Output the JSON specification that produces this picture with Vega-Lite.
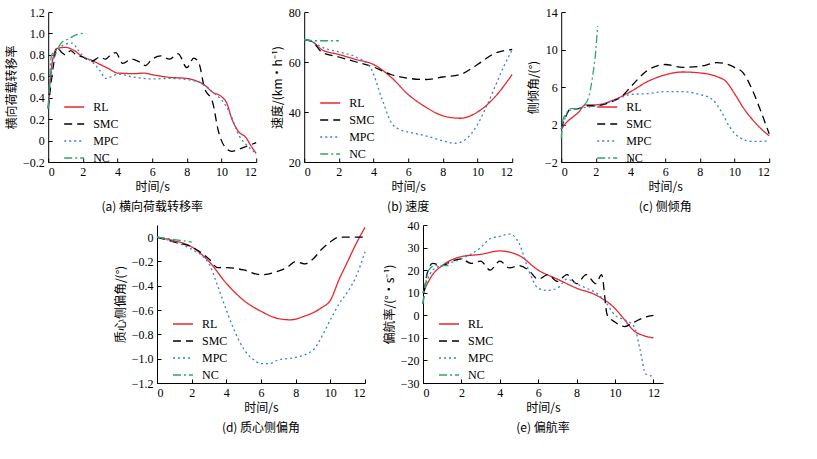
{
"$schema": "https://vega.github.io/schema/vega-lite/v6.json",
"background": "white",
"padding": {"left": 5, "top": 6, "right": 5, "bottom": 2},
"config": {
  "font": "Liberation Serif, Noto Sans CJK SC",
  "view": {"stroke": null},
  "axis": {"grid": false, "domainColor": "#000", "tickColor": "#000", "tickSize": -4, "labelFontSize": 12, "titleFontSize": 12, "titleFontWeight": "normal", "labelColor": "#000", "titleColor": "#000", "labelFont": "Liberation Serif", "titleFont": "Noto Sans CJK SC", "labelPadding": 8},
  "legend": {"orient": "none", "title": null, "symbolType": "stroke", "symbolSize": 400, "symbolStrokeWidth": 1.5, "labelFontSize": 12, "labelFont": "Liberation Serif", "rowPadding": 0, "labelOffset": 8},
  "title": {"orient": "bottom", "fontSize": 12, "fontWeight": "normal", "font": "Noto Sans CJK SC", "offset": 10},
  "line": {"strokeWidth": 1.3}
},
"datasets": {
"a": [
{"s":"RL","t":0,"v":0.3},{"s":"RL","t":0.2,"v":0.7},{"s":"RL","t":0.5,"v":0.86},{"s":"RL","t":1,"v":0.87},{"s":"RL","t":1.5,"v":0.84},{"s":"RL","t":2,"v":0.78},{"s":"RL","t":2.5,"v":0.75},{"s":"RL","t":3,"v":0.71},{"s":"RL","t":3.5,"v":0.67},{"s":"RL","t":4,"v":0.63},{"s":"RL","t":5,"v":0.625},{"s":"RL","t":5.5,"v":0.63},{"s":"RL","t":6,"v":0.615},{"s":"RL","t":7,"v":0.59},{"s":"RL","t":8,"v":0.58},{"s":"RL","t":8.5,"v":0.56},{"s":"RL","t":9,"v":0.52},{"s":"RL","t":9.5,"v":0.45},{"s":"RL","t":10,"v":0.41},{"s":"RL","t":10.3,"v":0.35},{"s":"RL","t":10.6,"v":0.2},{"s":"RL","t":11,"v":0.08},{"s":"RL","t":11.4,"v":0.03},{"s":"RL","t":11.7,"v":-0.05},{"s":"RL","t":12,"v":-0.12},
{"s":"SMC","t":0,"v":0.3},{"s":"SMC","t":0.3,"v":0.7},{"s":"SMC","t":0.5,"v":0.87},{"s":"SMC","t":0.8,"v":0.82},{"s":"SMC","t":1,"v":0.8},{"s":"SMC","t":1.3,"v":0.84},{"s":"SMC","t":1.6,"v":0.8},{"s":"SMC","t":2,"v":0.78},{"s":"SMC","t":2.5,"v":0.74},{"s":"SMC","t":3,"v":0.78},{"s":"SMC","t":3.3,"v":0.76},{"s":"SMC","t":3.6,"v":0.8},{"s":"SMC","t":3.9,"v":0.82},{"s":"SMC","t":4.3,"v":0.72},{"s":"SMC","t":4.8,"v":0.76},{"s":"SMC","t":5.2,"v":0.74},{"s":"SMC","t":5.6,"v":0.7},{"s":"SMC","t":6,"v":0.76},{"s":"SMC","t":6.5,"v":0.79},{"s":"SMC","t":7,"v":0.76},{"s":"SMC","t":7.5,"v":0.81},{"s":"SMC","t":8,"v":0.68},{"s":"SMC","t":8.4,"v":0.77},{"s":"SMC","t":8.7,"v":0.72},{"s":"SMC","t":9,"v":0.5},{"s":"SMC","t":9.5,"v":0.35},{"s":"SMC","t":9.8,"v":0.1},{"s":"SMC","t":10.2,"v":-0.06},{"s":"SMC","t":10.6,"v":-0.1},{"s":"SMC","t":11,"v":-0.08},{"s":"SMC","t":11.5,"v":-0.05},{"s":"SMC","t":12,"v":-0.02},
{"s":"MPC","t":0,"v":0.3},{"s":"MPC","t":0.3,"v":0.75},{"s":"MPC","t":0.6,"v":0.85},{"s":"MPC","t":1,"v":0.9},{"s":"MPC","t":1.4,"v":0.91},{"s":"MPC","t":1.7,"v":0.85},{"s":"MPC","t":2,"v":0.79},{"s":"MPC","t":2.5,"v":0.74},{"s":"MPC","t":3,"v":0.65},{"s":"MPC","t":3.3,"v":0.58},{"s":"MPC","t":3.7,"v":0.6},{"s":"MPC","t":4,"v":0.62},{"s":"MPC","t":5,"v":0.59},{"s":"MPC","t":6,"v":0.575},{"s":"MPC","t":7,"v":0.58},{"s":"MPC","t":8,"v":0.57},{"s":"MPC","t":9,"v":0.52},{"s":"MPC","t":9.5,"v":0.45},{"s":"MPC","t":10,"v":0.38},{"s":"MPC","t":10.5,"v":0.25},{"s":"MPC","t":11,"v":0.05},{"s":"MPC","t":11.5,"v":-0.05},{"s":"MPC","t":12,"v":-0.12},
{"s":"NC","t":0,"v":0.3},{"s":"NC","t":0.2,"v":0.8},{"s":"NC","t":0.5,"v":0.85},{"s":"NC","t":0.8,"v":0.92},{"s":"NC","t":1.2,"v":0.95},{"s":"NC","t":1.5,"v":0.98},{"s":"NC","t":2,"v":1.0}
],
"b": [
{"s":"RL","t":0,"v":69},{"s":"RL","t":0.5,"v":68},{"s":"RL","t":1,"v":65},{"s":"RL","t":2,"v":63},{"s":"RL","t":3,"v":61},{"s":"RL","t":4,"v":59},{"s":"RL","t":5,"v":54},{"s":"RL","t":6,"v":47},{"s":"RL","t":7,"v":42},{"s":"RL","t":8,"v":38.5},{"s":"RL","t":9,"v":37.5},{"s":"RL","t":10,"v":40},{"s":"RL","t":11,"v":46},{"s":"RL","t":12,"v":55},
{"s":"SMC","t":0,"v":69},{"s":"SMC","t":0.5,"v":68},{"s":"SMC","t":1,"v":64},{"s":"SMC","t":2,"v":62},{"s":"SMC","t":3,"v":60},{"s":"SMC","t":4,"v":58},{"s":"SMC","t":5,"v":55},{"s":"SMC","t":6,"v":53.5},{"s":"SMC","t":7,"v":53},{"s":"SMC","t":8,"v":54},{"s":"SMC","t":9,"v":55},{"s":"SMC","t":10,"v":59},{"s":"SMC","t":11,"v":63.5},{"s":"SMC","t":12,"v":65},
{"s":"MPC","t":0,"v":69},{"s":"MPC","t":0.5,"v":68},{"s":"MPC","t":1,"v":66},{"s":"MPC","t":2,"v":64},{"s":"MPC","t":3,"v":62},{"s":"MPC","t":3.8,"v":58},{"s":"MPC","t":4.5,"v":45},{"s":"MPC","t":5,"v":36},{"s":"MPC","t":5.5,"v":33},{"s":"MPC","t":6,"v":32},{"s":"MPC","t":7,"v":30.5},{"s":"MPC","t":8,"v":28.5},{"s":"MPC","t":8.7,"v":27.5},{"s":"MPC","t":9.3,"v":29},{"s":"MPC","t":10,"v":35},{"s":"MPC","t":10.5,"v":42},{"s":"MPC","t":11,"v":50},{"s":"MPC","t":11.5,"v":58},{"s":"MPC","t":12,"v":65},
{"s":"NC","t":0,"v":69},{"s":"NC","t":0.5,"v":68.5},{"s":"NC","t":1,"v":68.5},{"s":"NC","t":2,"v":68.5}
],
"c": [
{"s":"RL","t":0,"v":1.5},{"s":"RL","t":0.3,"v":2.2},{"s":"RL","t":1,"v":3.3},{"s":"RL","t":1.4,"v":4.1},{"s":"RL","t":2,"v":4.1},{"s":"RL","t":3,"v":4.6},{"s":"RL","t":4,"v":5.5},{"s":"RL","t":5,"v":6.6},{"s":"RL","t":6,"v":7.3},{"s":"RL","t":7,"v":7.6},{"s":"RL","t":8,"v":7.5},{"s":"RL","t":9,"v":7.1},{"s":"RL","t":9.5,"v":6.6},{"s":"RL","t":10,"v":5.3},{"s":"RL","t":10.5,"v":3.8},{"s":"RL","t":11,"v":2.6},{"s":"RL","t":11.5,"v":1.6},{"s":"RL","t":12,"v":0.8},
{"s":"SMC","t":0,"v":1.5},{"s":"SMC","t":0.3,"v":3.0},{"s":"SMC","t":0.5,"v":3.6},{"s":"SMC","t":1,"v":3.7},{"s":"SMC","t":1.5,"v":4.0},{"s":"SMC","t":2,"v":4.0},{"s":"SMC","t":3,"v":4.5},{"s":"SMC","t":3.5,"v":5.0},{"s":"SMC","t":4,"v":6.0},{"s":"SMC","t":5,"v":7.8},{"s":"SMC","t":6,"v":8.4},{"s":"SMC","t":7,"v":8.1},{"s":"SMC","t":8,"v":8.2},{"s":"SMC","t":9,"v":8.6},{"s":"SMC","t":10,"v":8.1},{"s":"SMC","t":10.5,"v":7.5},{"s":"SMC","t":11,"v":5.8},{"s":"SMC","t":11.5,"v":3.5},{"s":"SMC","t":12,"v":1.0},
{"s":"MPC","t":0,"v":1.5},{"s":"MPC","t":0.3,"v":3.0},{"s":"MPC","t":0.5,"v":3.5},{"s":"MPC","t":1,"v":3.7},{"s":"MPC","t":2,"v":4.0},{"s":"MPC","t":3,"v":4.5},{"s":"MPC","t":4,"v":5.2},{"s":"MPC","t":5,"v":5.3},{"s":"MPC","t":6,"v":5.5},{"s":"MPC","t":7,"v":5.5},{"s":"MPC","t":8,"v":5.2},{"s":"MPC","t":8.7,"v":4.7},{"s":"MPC","t":9.2,"v":3.5},{"s":"MPC","t":9.7,"v":1.8},{"s":"MPC","t":10.3,"v":0.6},{"s":"MPC","t":11,"v":0.2},{"s":"MPC","t":11.6,"v":0.2},{"s":"MPC","t":12,"v":0.3},
{"s":"NC","t":0,"v":0.5},{"s":"NC","t":0.1,"v":2.5},{"s":"NC","t":0.3,"v":3.2},{"s":"NC","t":0.5,"v":3.7},{"s":"NC","t":1,"v":3.7},{"s":"NC","t":1.3,"v":4.0},{"s":"NC","t":1.6,"v":5.0},{"s":"NC","t":1.8,"v":7.0},{"s":"NC","t":2.0,"v":10.0},{"s":"NC","t":2.1,"v":12.5}
],
"d": [
{"s":"RL","t":0,"v":0},{"s":"RL","t":1,"v":-0.03},{"s":"RL","t":2,"v":-0.08},{"s":"RL","t":3,"v":-0.2},{"s":"RL","t":4,"v":-0.38},{"s":"RL","t":5,"v":-0.52},{"s":"RL","t":6,"v":-0.61},{"s":"RL","t":7,"v":-0.67},{"s":"RL","t":7.7,"v":-0.68},{"s":"RL","t":8.5,"v":-0.65},{"s":"RL","t":9.5,"v":-0.58},{"s":"RL","t":10,"v":-0.52},{"s":"RL","t":10.5,"v":-0.35},{"s":"RL","t":11,"v":-0.2},{"s":"RL","t":11.5,"v":-0.05},{"s":"RL","t":12,"v":0.08},
{"s":"SMC","t":0,"v":0},{"s":"SMC","t":1,"v":-0.04},{"s":"SMC","t":2,"v":-0.08},{"s":"SMC","t":3,"v":-0.18},{"s":"SMC","t":3.5,"v":-0.25},{"s":"SMC","t":4,"v":-0.25},{"s":"SMC","t":5,"v":-0.27},{"s":"SMC","t":6,"v":-0.31},{"s":"SMC","t":7,"v":-0.28},{"s":"SMC","t":7.5,"v":-0.25},{"s":"SMC","t":8,"v":-0.2},{"s":"SMC","t":8.5,"v":-0.22},{"s":"SMC","t":9,"v":-0.18},{"s":"SMC","t":9.5,"v":-0.1},{"s":"SMC","t":10,"v":-0.04},{"s":"SMC","t":10.5,"v":0},{"s":"SMC","t":11,"v":0},{"s":"SMC","t":12,"v":0},
{"s":"MPC","t":0,"v":0},{"s":"MPC","t":1,"v":-0.04},{"s":"MPC","t":2,"v":-0.1},{"s":"MPC","t":3,"v":-0.22},{"s":"MPC","t":3.5,"v":-0.4},{"s":"MPC","t":4,"v":-0.6},{"s":"MPC","t":4.5,"v":-0.78},{"s":"MPC","t":5,"v":-0.92},{"s":"MPC","t":5.5,"v":-1.0},{"s":"MPC","t":6,"v":-1.04},{"s":"MPC","t":6.5,"v":-1.04},{"s":"MPC","t":7,"v":-1.01},{"s":"MPC","t":8,"v":-0.99},{"s":"MPC","t":9,"v":-0.93},{"s":"MPC","t":9.5,"v":-0.82},{"s":"MPC","t":10,"v":-0.68},{"s":"MPC","t":10.5,"v":-0.55},{"s":"MPC","t":11,"v":-0.45},{"s":"MPC","t":11.5,"v":-0.32},{"s":"MPC","t":12,"v":-0.12},
{"s":"NC","t":0,"v":0},{"s":"NC","t":1,"v":-0.02},{"s":"NC","t":2,"v":-0.04}
],
"e": [
{"s":"RL","t":0,"v":10},{"s":"RL","t":0.5,"v":18},{"s":"RL","t":1,"v":22},{"s":"RL","t":2,"v":26},{"s":"RL","t":3,"v":27},{"s":"RL","t":4,"v":28.5},{"s":"RL","t":5,"v":26.5},{"s":"RL","t":6,"v":20},{"s":"RL","t":7,"v":16},{"s":"RL","t":8,"v":12},{"s":"RL","t":9,"v":9},{"s":"RL","t":10,"v":3},{"s":"RL","t":10.5,"v":-2},{"s":"RL","t":11,"v":-7},{"s":"RL","t":11.5,"v":-9},{"s":"RL","t":12,"v":-10},
{"s":"SMC","t":0,"v":5},{"s":"SMC","t":0.2,"v":18},{"s":"SMC","t":0.5,"v":23},{"s":"SMC","t":1,"v":22},{"s":"SMC","t":1.5,"v":24},{"s":"SMC","t":2,"v":25},{"s":"SMC","t":2.5,"v":23},{"s":"SMC","t":3,"v":24},{"s":"SMC","t":3.5,"v":20},{"s":"SMC","t":4,"v":24},{"s":"SMC","t":4.5,"v":21},{"s":"SMC","t":5,"v":22},{"s":"SMC","t":5.5,"v":20},{"s":"SMC","t":6,"v":16},{"s":"SMC","t":6.5,"v":18},{"s":"SMC","t":7,"v":15},{"s":"SMC","t":7.5,"v":18},{"s":"SMC","t":8,"v":14},{"s":"SMC","t":8.5,"v":18},{"s":"SMC","t":9,"v":14},{"s":"SMC","t":9.3,"v":18},{"s":"SMC","t":9.6,"v":0},{"s":"SMC","t":10,"v":-3},{"s":"SMC","t":10.5,"v":-5},{"s":"SMC","t":11,"v":-3},{"s":"SMC","t":11.5,"v":-1},{"s":"SMC","t":12,"v":0},
{"s":"MPC","t":0,"v":10},{"s":"MPC","t":0.5,"v":20},{"s":"MPC","t":1,"v":22},{"s":"MPC","t":2,"v":25},{"s":"MPC","t":3,"v":30},{"s":"MPC","t":3.5,"v":34},{"s":"MPC","t":4,"v":35},{"s":"MPC","t":4.5,"v":36},{"s":"MPC","t":5,"v":32},{"s":"MPC","t":5.5,"v":20},{"s":"MPC","t":6,"v":12},{"s":"MPC","t":6.5,"v":11},{"s":"MPC","t":7,"v":12},{"s":"MPC","t":7.5,"v":16},{"s":"MPC","t":8,"v":14},{"s":"MPC","t":8.5,"v":12},{"s":"MPC","t":9,"v":10},{"s":"MPC","t":9.5,"v":6},{"s":"MPC","t":10,"v":0},{"s":"MPC","t":10.5,"v":-2},{"s":"MPC","t":11,"v":-5},{"s":"MPC","t":11.3,"v":-15},{"s":"MPC","t":11.6,"v":-26},{"s":"MPC","t":12,"v":-27},
{"s":"NC","t":0,"v":5},{"s":"NC","t":0.3,"v":20},{"s":"NC","t":0.6,"v":22},{"s":"NC","t":1,"v":22},{"s":"NC","t":1.5,"v":22}
]
},
"vconcat": [
{"hconcat": [
{"data": {"name": "a"}, "width": 208, "height": 150, "mark": {"type": "line", "interpolate": "monotone"},
 "title": "(a)  横向荷载转移率",
 "encoding": {
  "x": {"field": "t", "type": "quantitative", "scale": {"domain": [0, 12], "nice": false}, "axis": {"title": "时间/s", "values": [0,2,4,6,8,10,12]}},
  "y": {"field": "v", "type": "quantitative", "scale": {"domain": [-0.2, 1.2], "nice": false}, "axis": {"title": "横向荷载转移率", "values": [-0.2,0,0.2,0.4,0.6,0.8,1.0,1.2], "labelExpr": "datum.value == 0 ? '0' : format(datum.value, '.1f')"}},
  "color": {"field": "s", "type": "nominal", "scale": {"domain": ["RL","SMC","MPC","NC"], "range": ["#e8262a","#000000","#3b7ddd","#2aa866"]}, "legend": {"legendX": 15, "legendY": 84}},
  "strokeDash": {"field": "s", "type": "nominal", "scale": {"domain": ["RL","SMC","MPC","NC"], "range": [[1,0],[8,5],[2,3],[8,3,2,3]]}},
  "order": {"field": "t", "type": "quantitative"}
 }},
{"data": {"name": "b"}, "width": 208, "height": 150, "mark": {"type": "line", "interpolate": "monotone"},
 "title": "(b)  速度",
 "encoding": {
  "x": {"field": "t", "type": "quantitative", "scale": {"domain": [0, 12], "nice": false}, "axis": {"title": "时间/s", "values": [0,2,4,6,8,10,12]}},
  "y": {"field": "v", "type": "quantitative", "scale": {"domain": [20, 80], "nice": false}, "axis": {"title": "速度/(km・h⁻¹)", "values": [20,40,60,80]}},
  "color": {"field": "s", "type": "nominal", "scale": {"domain": ["RL","SMC","MPC","NC"], "range": ["#e8262a","#000000","#3b7ddd","#2aa866"]}, "legend": {"legendX": 15, "legendY": 80}},
  "strokeDash": {"field": "s", "type": "nominal", "scale": {"domain": ["RL","SMC","MPC","NC"], "range": [[1,0],[8,5],[2,3],[8,3,2,3]]}},
  "order": {"field": "t", "type": "quantitative"}
 }},
{"data": {"name": "c"}, "width": 208, "height": 150, "mark": {"type": "line", "interpolate": "monotone"},
 "title": "(c)  侧倾角",
 "encoding": {
  "x": {"field": "t", "type": "quantitative", "scale": {"domain": [0, 12], "nice": false}, "axis": {"title": "时间/s", "values": [0,2,4,6,8,10,12]}},
  "y": {"field": "v", "type": "quantitative", "scale": {"domain": [-2, 14], "nice": false}, "axis": {"title": "侧倾角/(°)", "values": [-2,2,6,10,14]}},
  "color": {"field": "s", "type": "nominal", "scale": {"domain": ["RL","SMC","MPC","NC"], "range": ["#e8262a","#000000","#3b7ddd","#2aa866"]}, "legend": {"legendX": 35, "legendY": 84}},
  "strokeDash": {"field": "s", "type": "nominal", "scale": {"domain": ["RL","SMC","MPC","NC"], "range": [[1,0],[8,5],[2,3],[8,3,2,3]]}},
  "order": {"field": "t", "type": "quantitative"}
 }}
], "spacing": 12, "resolve": {"scale": {"color": "independent", "strokeDash": "independent"}}},
{"hconcat": [
{"data": {"name": "d"}, "width": 208, "height": 158, "mark": {"type": "line", "interpolate": "monotone"},
 "title": "(d)  质心侧偏角",
 "encoding": {
  "x": {"field": "t", "type": "quantitative", "scale": {"domain": [0, 12], "nice": false}, "axis": {"title": "时间/s", "values": [0,2,4,6,8,10,12]}},
  "y": {"field": "v", "type": "quantitative", "scale": {"domain": [-1.2, 0.1], "nice": false}, "axis": {"title": "质心侧偏角/(°)", "values": [-1.2,-1.0,-0.8,-0.6,-0.4,-0.2,0], "labelExpr": "datum.value == 0 ? '0' : format(datum.value, '.1f')"}},
  "color": {"field": "s", "type": "nominal", "scale": {"domain": ["RL","SMC","MPC","NC"], "range": ["#e8262a","#000000","#3b7ddd","#2aa866"]}, "legend": {"legendX": 15, "legendY": 88}},
  "strokeDash": {"field": "s", "type": "nominal", "scale": {"domain": ["RL","SMC","MPC","NC"], "range": [[1,0],[8,5],[2,3],[8,3,2,3]]}},
  "order": {"field": "t", "type": "quantitative"}
 }},
{"data": {"name": "e"}, "width": 240, "height": 158, "mark": {"type": "line", "interpolate": "monotone"},
 "title": "(e)  偏航率",
 "encoding": {
  "x": {"field": "t", "type": "quantitative", "scale": {"domain": [0, 12.5], "nice": false}, "axis": {"title": "时间/s", "values": [0,2,4,6,8,10,12]}},
  "y": {"field": "v", "type": "quantitative", "scale": {"domain": [-30, 40], "nice": false}, "axis": {"title": "偏航率/(°・s⁻¹)", "values": [-30,-20,-10,0,10,20,30,40]}},
  "color": {"field": "s", "type": "nominal", "scale": {"domain": ["RL","SMC","MPC","NC"], "range": ["#e8262a","#000000","#3b7ddd","#2aa866"]}, "legend": {"legendX": 15, "legendY": 88}},
  "strokeDash": {"field": "s", "type": "nominal", "scale": {"domain": ["RL","SMC","MPC","NC"], "range": [[1,0],[8,5],[2,3],[8,3,2,3]]}},
  "order": {"field": "t", "type": "quantitative"}
 }}
], "spacing": 15, "resolve": {"scale": {"color": "independent", "strokeDash": "independent"}}}
],
"spacing": 6,
"center": true
}
